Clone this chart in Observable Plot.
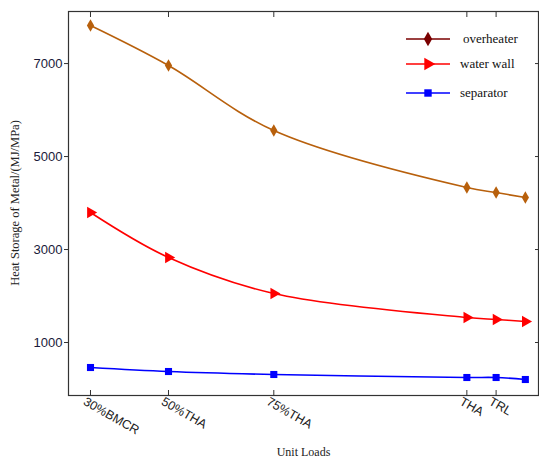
<!DOCTYPE html>
<html><head><meta charset="utf-8">
<script src="https://cdn.jsdelivr.net/npm/d3@7"></script>
<script src="https://cdn.jsdelivr.net/npm/@observablehq/plot@0.6"></script>
<style>
body{margin:0;background:#fff;}
#wrap{position:relative;width:539px;height:459px;}
</style></head>
<body><div id="wrap"></div>
<script>
// x positions of the unit loads (arbitrary load units)
const loads = [30, 50, 77, 126.5, 134, 141.5];
const loadLabels = ["30%BMCR", "50%THA", "75%THA", "THA", "TRL", ""];
const overheater = [7817, 6957, 5559, 4333, 4226, 4118];
const waterWall = [3796, 2828, 2054, 1538, 1495, 1452];
const separator = [462, 376, 312, 247, 247, 204];
const yTicks = [1000, 3000, 5000, 7000];
const seriesNames = ["overheater", "water wall", "separator"];

const mk = (vals) => loads.map((x, i) => ({x, y: vals[i]}));
const labelMap = new Map(loads.map((l, i) => [l, loadLabels[i]]));

const cOver = "#b8600c", cWater = "#ff0000", cSep = "#0000ff";
const sans = "Liberation Sans, Arial, sans-serif";
const serif = "Liberation Serif, Times New Roman, serif";

const chart = Plot.plot({
  width: 539, height: 459,
  marginLeft: 68, marginRight: 1, marginTop: 11, marginBottom: 64,
  x: {domain: [24.36, 144.87]},
  y: {domain: [-140, 8120]},
  style: {fontFamily: sans, background: "#fff"},
  marks: [
    Plot.frame({stroke: "#333", strokeWidth: 1.2}),
    Plot.axisX({anchor: "bottom", ticks: loads.slice(0, 5), tickSize: -5, tickFormat: () => "", stroke: "#333", label: null}),
    Plot.axisX({anchor: "top", ticks: loads.slice(0, 5), tickSize: -5, tickFormat: () => "", stroke: "#333", label: null}),
    Plot.axisX({anchor: "bottom", ticks: loads.slice(0, 5), tickSize: 0, tickPadding: 5, tickRotate: 30, dx: -6,
      tickFormat: d => labelMap.get(d), fontSize: 12.5, fill: "#222", label: "Unit Loads", labelAnchor: "center", labelArrow: "none", labelOffset: 60}),
    Plot.axisY({anchor: "left", ticks: yTicks, tickSize: 4, tickPadding: 2, fontSize: 13, fill: "#1a1a3a", stroke: "#333",
      tickFormat: d => String(d), label: null}),
    Plot.axisY({anchor: "right", ticks: yTicks, tickSize: -4, tickFormat: () => "", stroke: "#333", label: null}),
    Plot.line(mk(overheater), {x: "x", y: "y", stroke: cOver, strokeWidth: 1.6, curve: "catmull-rom"}),
    Plot.line(mk(waterWall), {x: "x", y: "y", stroke: cWater, strokeWidth: 1.6, curve: "catmull-rom"}),
    Plot.line(mk(separator), {x: "x", y: "y", stroke: cSep, strokeWidth: 1.6, curve: "catmull-rom"}),
    Plot.dot(mk(overheater), {x: "x", y: "y", fill: cOver, symbol: "diamond", r: 3.8}),
    Plot.dot(mk(waterWall), {x: "x", y: "y", fill: cWater, symbol: "triangle", r: 4.3, rotate: 90}),
    Plot.dot(mk(separator), {x: "x", y: "y", fill: cSep, symbol: "square", r: 4})
  ]
});
const wrap = document.getElementById("wrap");
chart.style.position = "absolute"; chart.style.left = "0"; chart.style.top = "0";
wrap.appendChild(chart);
chart.querySelectorAll("text").forEach(t => { if (t.textContent === "Unit Loads") { t.setAttribute("font-family", serif); t.setAttribute("font-size", "12"); } });

// y-axis title
const ns = "http://www.w3.org/2000/svg";
const ov = document.createElementNS(ns, "svg");
ov.setAttribute("width", 539); ov.setAttribute("height", 459);
ov.style.position = "absolute"; ov.style.left = "0"; ov.style.top = "0";
wrap.appendChild(ov);
const yt = document.createElementNS(ns, "text");
yt.setAttribute("transform", "translate(19,203) rotate(-90)");
yt.setAttribute("text-anchor", "middle");
yt.setAttribute("font-family", serif); yt.setAttribute("font-size", "12.5"); yt.setAttribute("fill", "#222");
yt.textContent = "Heat Storage of Metal/(MJ/MPa)";
ov.appendChild(yt);

// legend
const legColors = ["#7a0000", "#ff0000", "#0000ff"];
const legY = [39, 64, 93];
const legTX = [463, 460, 460];
const legSym = [d3.symbolDiamond, d3.symbolTriangle, d3.symbolSquare];
const legRot = [0, 90, 0];
const legSize = [60, 70, 55];
seriesNames.forEach((name, i) => {
  const l = document.createElementNS(ns, "line");
  l.setAttribute("x1", 406); l.setAttribute("x2", 450);
  l.setAttribute("y1", legY[i]); l.setAttribute("y2", legY[i]);
  l.setAttribute("stroke", legColors[i]); l.setAttribute("stroke-width", 1.6);
  ov.appendChild(l);
  const p = document.createElementNS(ns, "path");
  p.setAttribute("d", d3.symbol(legSym[i], legSize[i])());
  p.setAttribute("transform", `translate(428,${legY[i]}) rotate(${legRot[i]})`);
  p.setAttribute("fill", legColors[i]);
  ov.appendChild(p);
  const t = document.createElementNS(ns, "text");
  t.setAttribute("x", legTX[i]); t.setAttribute("y", legY[i] + 4);
  t.setAttribute("font-family", serif); t.setAttribute("font-size", "13"); t.setAttribute("fill", "#111");
  t.textContent = name;
  ov.appendChild(t);
});
</script></body></html>
